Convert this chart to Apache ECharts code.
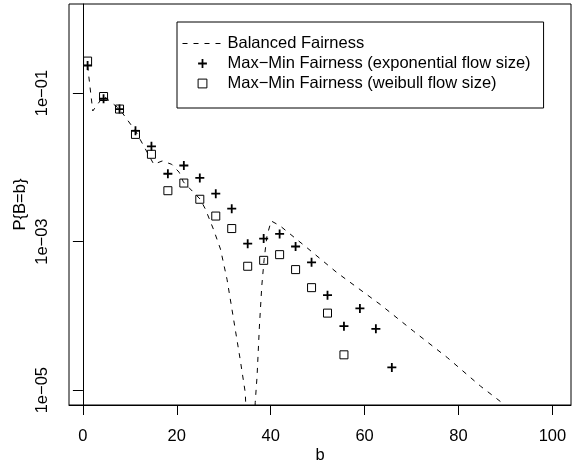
<!DOCTYPE html>
<html>
<head>
<meta charset="utf-8">
<script src="https://cdn.jsdelivr.net/npm/echarts@6/dist/echarts.min.js"></script>
<style>
  html, body { margin: 0; padding: 0; background: #fff; }
  #chart-container { width: 580px; height: 466px; }
</style>
</head>
<body>
<div id="chart-container"></div>
<script>
// balanced fairness curve (dashed)
var bfX = [1, 2.1, 4.4, 7.8, 11.2, 15.1, 16.9, 18.9, 20.5, 21.4, 25.0, 26.1, 27.8, 29.3, 30.7, 32.1, 33.5, 34.6, 35.6,
  36.7, 37.1, 37.6, 38.1, 38.6, 39.2, 40.1, 42.0, 47.7, 54.1, 63.3, 70.4, 77.6, 84.7, 89.0, 100];
var bfY = [0.234, 0.0575, 0.0912, 0.061, 0.0309, 0.011, 0.0122, 0.011, 0.0086, 0.00637, 0.00372, 0.00273, 0.00147,
  0.000794, 0.00031, 8.97e-5, 2.59e-5, 9.1e-6, 1e-7, 6.8e-6, 1.55e-5, 7.3e-5, 2.52e-4, 5.78e-4, 1.19e-3, 1.9e-3,
  1.63e-3, 8.3e-4, 3.83e-4, 1.43e-4, 6.24e-5, 2.75e-5, 1.13e-5, 6.97e-6, 2e-6];

// max-min fairness, simulated points
var mmX = [1, 4.4, 7.8, 11.2, 14.6, 18.1, 21.5, 24.9, 28.3, 31.7, 35.1, 38.5, 41.9, 45.3, 48.7, 52.1, 55.6, 59.0, 62.4, 65.8];
var expY = [0.235, 0.084, 0.061, 0.0311, 0.0192, 0.0082, 0.0106, 0.0072, 0.00443, 0.00278, 0.00094, 0.0011, 0.00127,
  0.00086, 0.000527, 0.00019, 7.26e-5, 0.000126, 6.7e-5, 2.02e-5];
var weiY = [0.27, 0.090, 0.061, 0.0278, 0.015, 0.00485, 0.00615, 0.00372, 0.00221, 0.0015, 0.000466, 0.00056, 0.000668,
  0.00042, 0.00024, 0.000109, 2.99e-5];

var xTicks = [0, 20, 40, 60, 80, 100];
var yTicks = [1e-5, 1e-3, 1e-1];

var names = ['Balanced Fairness', 'Max\u2212Min Fairness (exponential flow size)', 'Max\u2212Min Fairness (weibull flow size)'];

function pairs(xs, ys) {
  return ys.map(function (y, i) { return [xs[i], y]; });
}

var plusPath = 'path://M4,0L6,0L6,4L10,4L10,6L6,6L6,10L4,10L4,6L0,6L0,4L4,4Z';
var font = 'Liberation Sans';

var dom = document.getElementById('chart-container');
var myChart = echarts.init(dom, null, {renderer: 'canvas'});

option = {
  animation: false,
  textStyle: {fontFamily: font, color: '#000'},
  grid: {
    left: 69, top: 4, right: 9, bottom: 61, show: true, borderColor: '#000', borderWidth: 1,
    outerBoundsMode: 'none', containLabel: false
  },
  legend: {
    left: 177, top: 22, orient: 'vertical',
    borderColor: '#000', borderWidth: 1,
    padding: [13, 13, 16, 5],
    itemWidth: 40, itemHeight: 11, itemGap: 3,
    textStyle: {fontFamily: font, fontSize: 16.5, color: '#000'},
    data: [
      {name: names[0], lineStyle: {width: 1, type: [5, 6], color: '#000'},
        itemStyle: {color: 'rgba(0,0,0,0)', borderWidth: 0, opacity: 0}},
      {name: names[1], lineStyle: {width: 0}},
      {name: names[2], lineStyle: {width: 0}, itemStyle: {color: 'rgba(0,0,0,0)', borderColor: '#000', borderWidth: 1}}
    ]
  },
  xAxis: {
    type: 'value', min: -2.96, max: 103.96,
    name: 'b', nameLocation: 'middle', nameGap: 42, nameMoveOverlap: false,
    nameTextStyle: {fontFamily: font, fontSize: 16.5, color: '#000'},
    axisLine: {show: true, lineStyle: {color: '#000'}},
    axisTick: {show: true, length: 10, customValues: xTicks, lineStyle: {color: '#000'}},
    axisLabel: {customValues: xTicks, margin: 23, fontSize: 16.5, color: '#000', fontFamily: font},
    splitLine: {show: false}
  },
  yAxis: {
    type: 'log', logBase: 10, min: Math.pow(10, -5.2), max: Math.pow(10, 0.2),
    name: 'P{B=b}', nameLocation: 'middle', nameGap: 40, nameMoveOverlap: false,
    nameTextStyle: {fontFamily: font, fontSize: 16.5, color: '#000'},
    axisLine: {show: true, lineStyle: {color: '#000'}},
    axisTick: {show: true, length: 10, customValues: yTicks, lineStyle: {color: '#000'}},
    axisLabel: {
      customValues: yTicks, rotate: 90, margin: 18, fontSize: 16.5, color: '#000', fontFamily: font,
      formatter: function (v) {
        var e = Math.round(Math.log10(v));
        var a = Math.abs(e);
        return '1e' + (e < 0 ? '\u2212' : '+') + (a < 10 ? '0' : '') + a;
      }
    },
    splitLine: {show: false}
  },
  series: [
    {
      name: names[0], type: 'line', data: pairs(bfX, bfY), symbol: 'none', clip: true,
      lineStyle: {color: '#000', width: 1, type: [5, 6]}, itemStyle: {color: '#000'}
    },
    {
      name: names[1], type: 'line', data: pairs(mmX, expY), symbol: plusPath, symbolSize: 9, showSymbol: true,
      showAllSymbol: true, lineStyle: {width: 0, opacity: 0}, itemStyle: {color: '#000'}
    },
    {
      name: names[2], type: 'line', data: pairs(mmX, weiY), symbol: 'rect', symbolSize: 8, showSymbol: true,
      showAllSymbol: true, lineStyle: {width: 0, opacity: 0},
      itemStyle: {color: 'rgba(0,0,0,0)', borderColor: '#000', borderWidth: 1}
    }
  ]
};

myChart.setOption(option);
window.addEventListener('resize', myChart.resize);
</script>
</body>
</html>
